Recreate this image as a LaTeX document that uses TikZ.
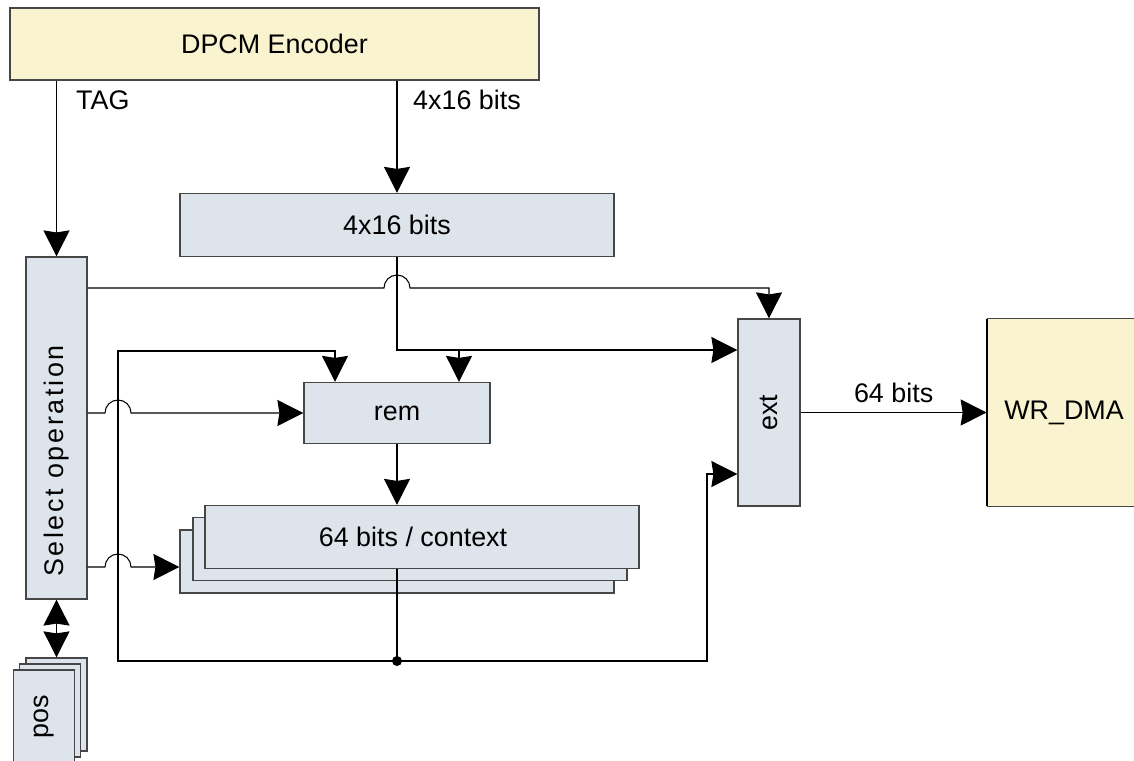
\documentclass[tikz,border=0pt]{standalone}
\usepackage{fontspec}
\setmainfont{Liberation Sans}
\usepackage{graphicx}
\usepackage{tikz}
\usetikzlibrary{positioning, arrows.meta}

\definecolor{encyellow}{RGB}{249,243,208}
\definecolor{regblue}{RGB}{222,228,235}
\definecolor{edgegray}{RGB}{70,70,70}

\tikzset{
  blk/.style={draw=edgegray, line width=0.7pt, fill=regblue, inner sep=0pt},
  srcblk/.style={blk, fill=encyellow},
  wire/.style={line width=0.6pt, black},
  >={Stealth[length=0.52cm, width=0.52cm, inset=0.04cm]}
}

\begin{document}
\begin{tikzpicture}[x=0.02cm, y=-0.02cm, font=\fontsize{15.3pt}{18pt}\selectfont]
    \useasboundingbox (0,0) rectangle (1134,761);

    % Encoder
    \node[srcblk, minimum width=10.58cm, minimum height=1.44cm] (enc) at (274.5,44) {DPCM Encoder};

    % Input register
    \node[blk, minimum width=8.68cm, minimum height=1.26cm] (buf) at (397,225) {4x16 bits};

    % Select operation
    \node[blk, minimum width=1.22cm, minimum height=6.84cm] (sel) at (56.5,428) {};
    \node (sellbl) at (56.5,461) {\rotatebox{90}{\addfontfeatures{LetterSpace=10}Select operation}};

    % Remainder
    \node[blk, minimum width=3.72cm, minimum height=1.22cm] (rem) at (397,413) {rem};

    % Context memory (stacked)
    \node[blk, minimum width=8.68cm, minimum height=1.26cm] (ctx3) at (397,561.5) {};
    \node[blk, minimum width=8.68cm, minimum height=1.26cm] (ctx2) at (410,549) {};
    \node[blk, minimum width=8.68cm, minimum height=1.26cm] (ctx1) at (422,537) {};
    \node (ctxlbl) at (413,537) {64 bits / context};

    % Extract
    \node[blk, minimum width=1.24cm, minimum height=3.74cm] (ext) at (769,412.5) {\rotatebox{90}{ext}};

    % DMA
    \node[fill=encyellow, inner sep=0pt, minimum width=3.08cm, minimum height=3.74cm] (dma) at (1064,412.5) {WR\_DMA};
    \draw[edgegray, line width=0.7pt] (dma.north east) -- (dma.north west);
    \draw[edgegray, line width=0.7pt] (dma.south east) -- (dma.south west);
    \draw[black, line width=1.3pt] (dma.north west) -- (dma.south west);

    % Position memory (stacked)
    \node[blk, minimum width=1.22cm, minimum height=1.86cm] (pos3) at (56.5,704.5) {};
    \node[blk, minimum width=1.22cm, minimum height=1.86cm] (pos2) at (50,710.5) {};
    \node[blk, minimum width=1.22cm, minimum height=1.86cm] (pos1) at (44,716.5) {\rotatebox{90}{pos}};

    % Bends and hops
    \coordinate (hopA) at (397,288);
    \coordinate (hopB) at (118,413);
    \coordinate (hopC) at (118,567);
    \coordinate (split) at (397,350);
    \coordinate (remtap) at (459,350);
    \coordinate (tap) at (397,661);

    % TAG
    \draw[wire, ->] (sel.north |- enc.south) -- (sel.north);
    \node[anchor=west] (taglbl) at (70,100) {TAG};

    % Encoder data
    \draw[wire, ->] (buf.north |- enc.south) -- (buf.north);
    \node (buslbl) at (467,100) {4x16 bits};

    % Select -> ext
    \draw[wire, ->] (sel.east |- hopA) -- ([xshift=-0.26cm]hopA) arc[start angle=180, end angle=0, radius=0.26cm]
        -- (ext.north |- hopA) -- (ext.north);

    % Register -> ext / rem
    \draw[wire, ->] (buf.south) -- (split) -- (ext.west |- split);
    \draw[wire, ->] (remtap) -- (rem.north -| remtap);

    % Select -> rem
    \draw[wire, ->] (sel.east |- hopB) -- ([xshift=-0.26cm]hopB) arc[start angle=180, end angle=0, radius=0.26cm]
        -- (rem.west |- hopB);

    % Select -> context
    \draw[wire, ->] (sel.east |- hopC) -- ([xshift=-0.26cm]hopC) arc[start angle=180, end angle=0, radius=0.26cm]
        -- (ctx3.west |- hopC);

    % rem -> context
    \draw[wire, ->] (rem.south) -- (rem.south |- ctx1.north);

    % Context feedback
    \draw[wire] (rem.south |- ctx1.south) -- (tap);
    \fill (tap) circle (0.1cm);
    \draw[wire, ->] (tap) -- (118,661) -- (118,351) -- (335,351) -- (rem.north -| 335,0);
    \draw[wire, ->] (tap) -- (707,661) -- (707,474) -- (ext.west |- 0,474);

    % ext -> DMA
    \draw[wire, ->] (ext.east) -- (dma.west) node[midway, above=2pt] (outlbl) {64 bits};

    % Select <-> pos
    \draw[wire, <->] (sel.south) -- (sel.south |- pos3.north);
\end{tikzpicture}
\end{document}
